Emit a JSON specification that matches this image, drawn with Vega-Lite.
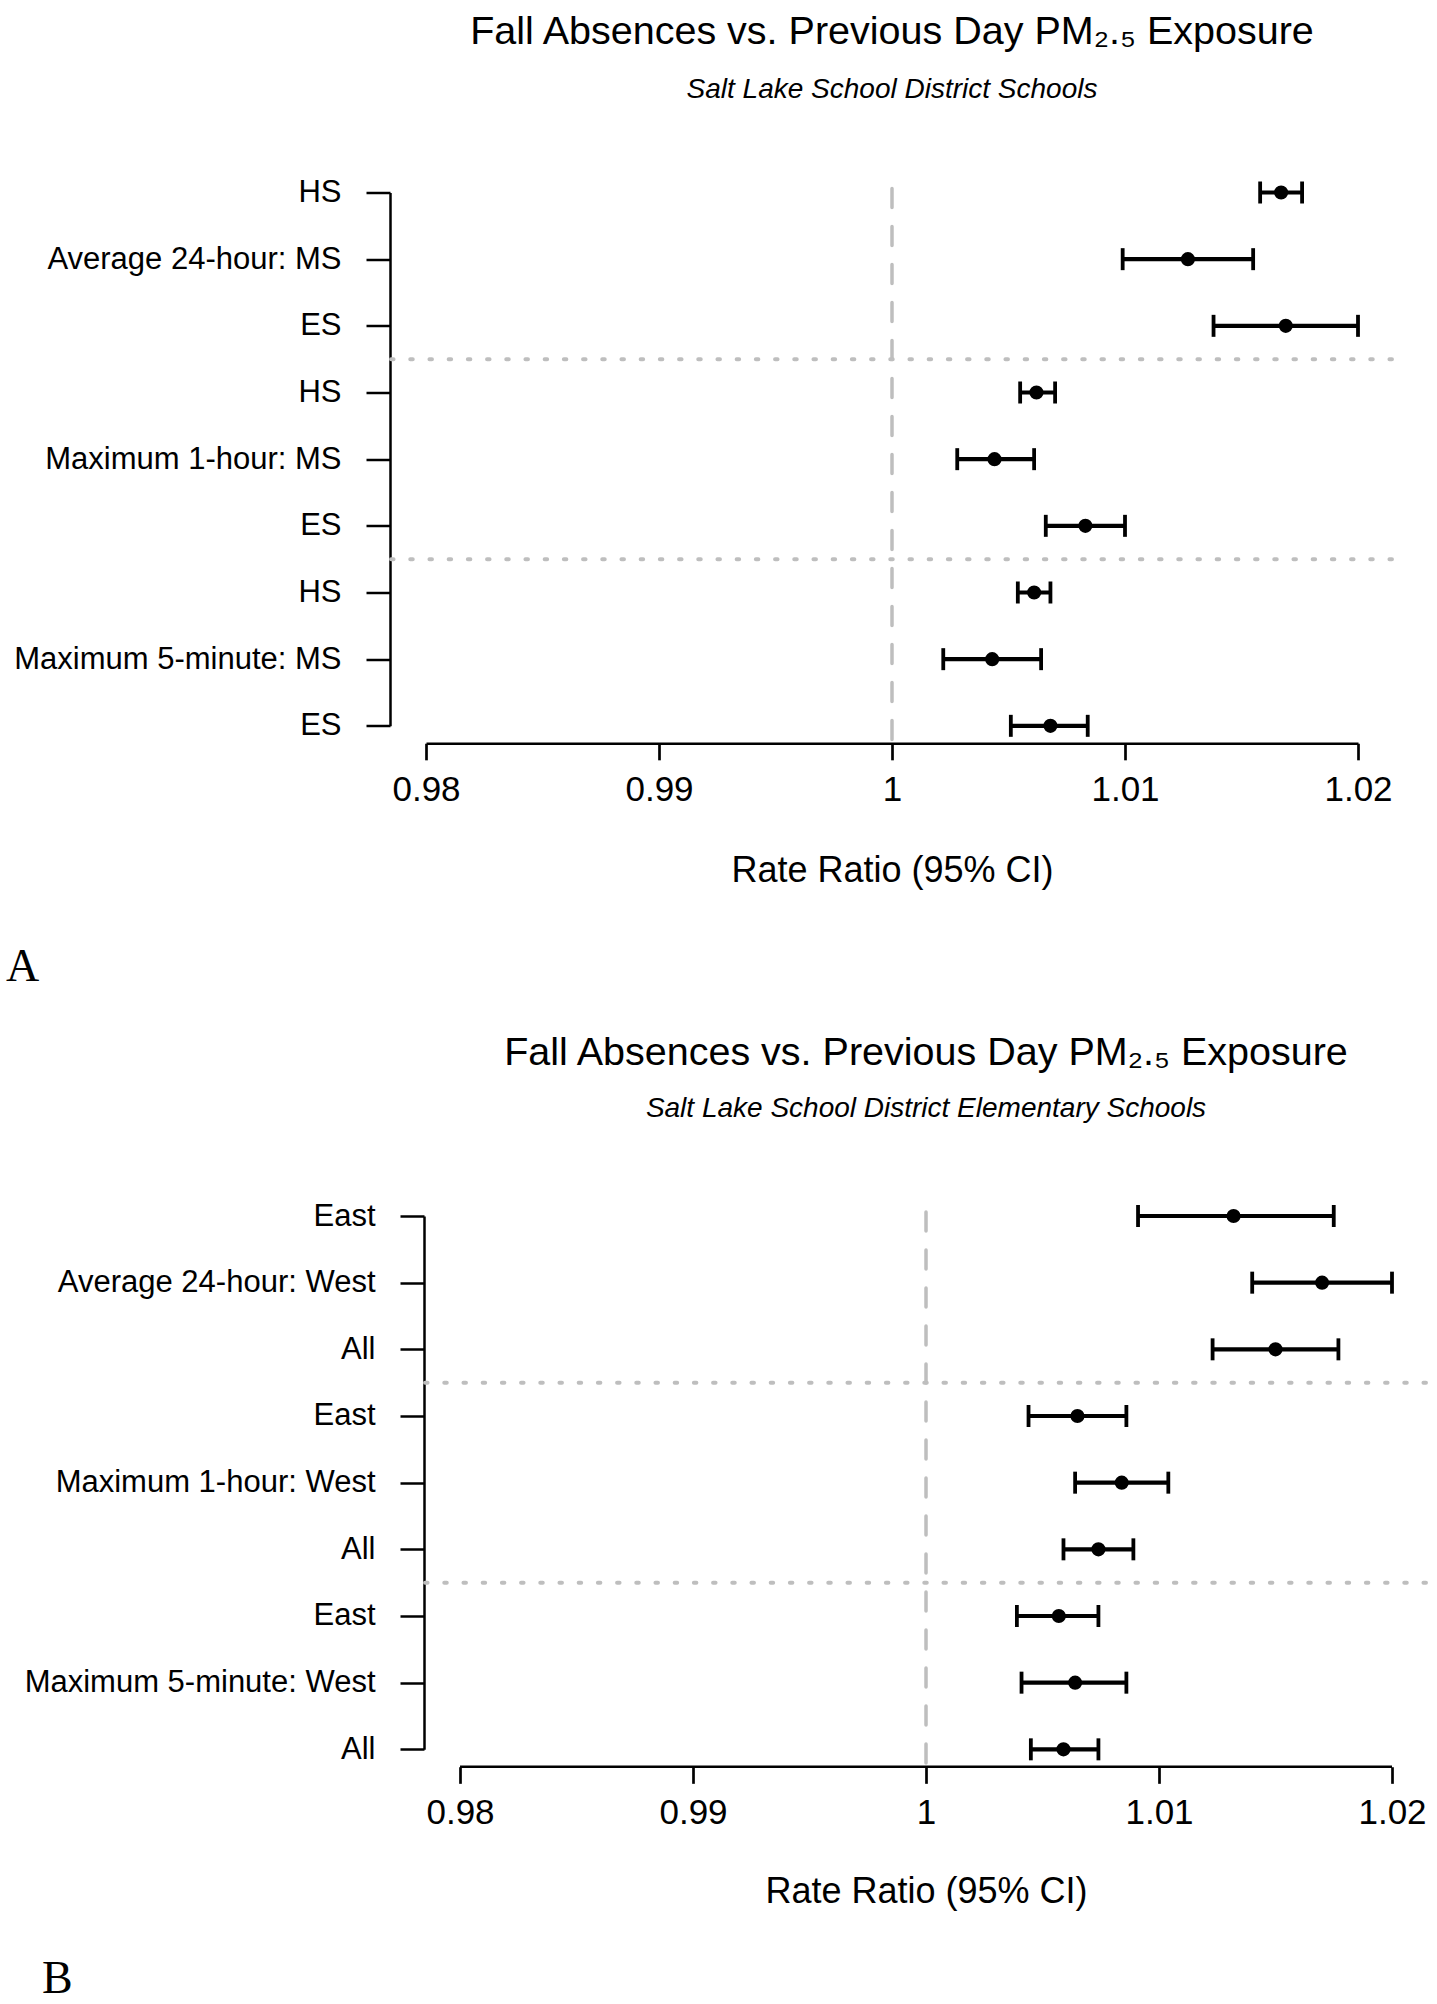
{
  "$schema": "https://vega.github.io/schema/vega-lite/v6.json",
  "background": "white",
  "padding": {"top": 11.5, "left": 0, "right": 0, "bottom": 0},
  "spacing": 42.5,
  "config": {
    "view": {"stroke": null},
    "font": "Liberation Sans",
    "axis": {"domainColor": "black", "tickColor": "black", "labelColor": "black", "titleColor": "black", "grid": false, "labelFont": "Liberation Sans", "titleFont": "Liberation Sans", "titleFontWeight": "normal", "labelLimit": 600},
    "title": {"color": "black", "fontWeight": "normal", "font": "Liberation Sans", "subtitleColor": "black", "subtitleFont": "Liberation Sans"}
  },
  "datasets": {
    "panelA": [
      {"row": 1, "label": "HS", "est": 1.0167, "lo": 1.0158, "hi": 1.0176},
      {"row": 2, "label": "Average 24-hour: MS", "est": 1.0127, "lo": 1.0099, "hi": 1.0155},
      {"row": 3, "label": "ES", "est": 1.0169, "lo": 1.0138, "hi": 1.02},
      {"row": 4, "label": "HS", "est": 1.0062, "lo": 1.0055, "hi": 1.007},
      {"row": 5, "label": "Maximum 1-hour: MS", "est": 1.0044, "lo": 1.0028, "hi": 1.0061},
      {"row": 6, "label": "ES", "est": 1.0083, "lo": 1.0066, "hi": 1.01},
      {"row": 7, "label": "HS", "est": 1.0061, "lo": 1.0054, "hi": 1.0068},
      {"row": 8, "label": "Maximum 5-minute: MS", "est": 1.0043, "lo": 1.0022, "hi": 1.0064},
      {"row": 9, "label": "ES", "est": 1.0068, "lo": 1.0051, "hi": 1.0084}
    ],
    "panelB": [
      {"row": 1, "label": "East", "est": 1.0132, "lo": 1.0091, "hi": 1.0175},
      {"row": 2, "label": "Average 24-hour: West", "est": 1.017, "lo": 1.014, "hi": 1.02},
      {"row": 3, "label": "All", "est": 1.015, "lo": 1.0123, "hi": 1.0177},
      {"row": 4, "label": "East", "est": 1.0065, "lo": 1.0044, "hi": 1.0086},
      {"row": 5, "label": "Maximum 1-hour: West", "est": 1.0084, "lo": 1.0064, "hi": 1.0104},
      {"row": 6, "label": "All", "est": 1.0074, "lo": 1.0059, "hi": 1.0089},
      {"row": 7, "label": "East", "est": 1.0057, "lo": 1.0039, "hi": 1.0074},
      {"row": 8, "label": "Maximum 5-minute: West", "est": 1.0064, "lo": 1.0041, "hi": 1.0086},
      {"row": 9, "label": "All", "est": 1.0059, "lo": 1.0045, "hi": 1.0074}
    ],
    "nullLine": [{"x": 1, "y_start": 0.94, "y_end": 9.26}],
    "separators": [
      {"row": 3.5, "x_start": 0.9785, "x_end": 1.0215},
      {"row": 6.5, "x_start": 0.9785, "x_end": 1.0215}
    ],
    "axisLine": [{"row": 9.261, "x_start": 0.98, "x_end": 1.02}]
  },
  "vconcat": [
    {
      "title": {"text": "A", "orient": "bottom", "anchor": "start", "frame": "bounds", "font": "Liberation Serif", "fontSize": 46, "fontWeight": "normal", "offset": 57, "dx": 6},
      "vconcat": [
        {
          "width": 932,
          "height": 533.33,
          "title": {"text": "Fall Absences vs. Previous Day PM₂.₅ Exposure", "subtitle": "Salt Lake School District Schools", "anchor": "middle", "frame": "group", "fontSize": 39.5, "subtitleFontSize": 28, "subtitleFontStyle": "italic", "subtitlePadding": 23, "offset": 72},
          "layer": [
            {
              "data": {"name": "nullLine"},
              "mark": {"type": "rule", "color": "#bebebe", "strokeWidth": 3.5, "strokeDash": [19, 19], "strokeCap": "round"},
              "encoding": {
                "x": {"field": "x", "type": "quantitative", "scale": {"domain": [0.98, 1.02], "zero": false, "nice": false},
                  "axis": {"orient": "bottom", "offset": 17.4, "values": [0.98, 0.99, 1, 1.01, 1.02], "format": "~g", "tickSize": 16.6, "tickWidth": 2.7, "domainWidth": 2.7, "labelFontSize": 35, "labelPadding": 12.5, "labelFlush": false, "labelOverlap": false, "title": "Rate Ratio (95% CI)", "titleFontSize": 36, "titlePadding": 46}},
                "y": {"field": "y_start", "type": "quantitative", "scale": {"domain": [1, 9], "reverse": true, "zero": false, "nice": false},
                  "axis": {"orient": "left", "offset": 36, "values": [1, 2, 3, 4, 5, 6, 7, 8, 9], "labelExpr": "['', 'HS', 'Average 24-hour: MS', 'ES', 'HS', 'Maximum 1-hour: MS', 'ES', 'HS', 'Maximum 5-minute: MS', 'ES'][datum.value]", "tickSize": 24, "tickWidth": 2.5, "domainWidth": 2.5, "labelFontSize": 31, "labelPadding": 25, "labelOverlap": false, "labelBaseline": "middle", "title": null, "minExtent": 390, "maxExtent": 390}},
                "y2": {"field": "y_end"}
              }
            },
            {
              "data": {"name": "separators"},
              "mark": {"type": "rule", "color": "#bebebe", "strokeWidth": 4, "strokeDash": [2.5, 16.7], "strokeCap": "round"},
              "encoding": {
                "x": {"field": "x_start", "type": "quantitative", "scale": {"domain": [0.98, 1.02], "zero": false, "nice": false}},
                "x2": {"field": "x_end"},
                "y": {"field": "row", "type": "quantitative", "scale": {"domain": [1, 9], "reverse": true, "zero": false, "nice": false}}
              }
            },
            {
              "data": {"name": "panelA"},
              "mark": {"type": "rule", "color": "black", "strokeWidth": 4.2},
              "encoding": {
                "x": {"field": "lo", "type": "quantitative", "scale": {"domain": [0.98, 1.02], "zero": false, "nice": false}},
                "x2": {"field": "hi"},
                "y": {"field": "row", "type": "quantitative", "scale": {"domain": [1, 9], "reverse": true, "zero": false, "nice": false}}
              }
            },
            {
              "data": {"name": "panelA"},
              "mark": {"type": "tick", "orient": "vertical", "color": "black", "size": 22, "thickness": 3.8, "opacity": 1},
              "encoding": {
                "x": {"field": "lo", "type": "quantitative", "scale": {"domain": [0.98, 1.02], "zero": false, "nice": false}},
                "y": {"field": "row", "type": "quantitative", "scale": {"domain": [1, 9], "reverse": true, "zero": false, "nice": false}}
              }
            },
            {
              "data": {"name": "panelA"},
              "mark": {"type": "tick", "orient": "vertical", "color": "black", "size": 22, "thickness": 3.8, "opacity": 1},
              "encoding": {
                "x": {"field": "hi", "type": "quantitative", "scale": {"domain": [0.98, 1.02], "zero": false, "nice": false}},
                "y": {"field": "row", "type": "quantitative", "scale": {"domain": [1, 9], "reverse": true, "zero": false, "nice": false}}
              }
            },
            {
              "data": {"name": "panelA"},
              "mark": {"type": "point", "shape": "circle", "filled": true, "color": "black", "size": 200, "opacity": 1},
              "encoding": {
                "x": {"field": "est", "type": "quantitative", "scale": {"domain": [0.98, 1.02], "zero": false, "nice": false}},
                "y": {"field": "row", "type": "quantitative", "scale": {"domain": [1, 9], "reverse": true, "zero": false, "nice": false}}
              }
            }
          ]
        }
      ]
    },
    {
      "title": {"text": "B", "orient": "bottom", "anchor": "start", "frame": "bounds", "font": "Liberation Serif", "fontSize": 46, "fontWeight": "normal", "offset": 47, "dx": 42},
      "vconcat": [
        {
          "width": 966,
          "height": 533.33,
          "title": {"text": "Fall Absences vs. Previous Day PM₂.₅ Exposure", "subtitle": "Salt Lake School District Elementary Schools", "anchor": "middle", "frame": "group", "fontSize": 39.5, "subtitleFontSize": 28, "subtitleFontStyle": "italic", "subtitlePadding": 21, "offset": 76.5, "dx": 17},
          "layer": [
            {
              "data": {"name": "nullLine"},
              "mark": {"type": "rule", "color": "#bebebe", "strokeWidth": 3.5, "strokeDash": [19, 19], "strokeCap": "round"},
              "encoding": {
                "x": {"field": "x", "type": "quantitative", "scale": {"domain": [0.97854, 1.02], "zero": false, "nice": false},
                  "axis": {"orient": "bottom", "offset": 17.4, "values": [0.98, 0.99, 1, 1.01, 1.02], "format": "~g", "domain": false, "tickSize": 16.6, "tickWidth": 2.7, "labelFontSize": 35, "labelPadding": 12.5, "labelFlush": false, "labelOverlap": false, "title": "Rate Ratio (95% CI)", "titleFontSize": 36, "titlePadding": 44, "titleX": 500}},
                "y": {"field": "y_start", "type": "quantitative", "scale": {"domain": [1, 9], "reverse": true, "zero": false, "nice": false},
                  "axis": {"orient": "left", "offset": 2, "values": [1, 2, 3, 4, 5, 6, 7, 8, 9], "labelExpr": "['', 'East', 'Average 24-hour: West', 'All', 'East', 'Maximum 1-hour: West', 'All', 'East', 'Maximum 5-minute: West', 'All'][datum.value]", "tickSize": 24, "tickWidth": 2.5, "domainWidth": 2.5, "labelFontSize": 31, "labelPadding": 25, "labelOverlap": false, "labelBaseline": "middle", "title": null, "minExtent": 424, "maxExtent": 424}},
                "y2": {"field": "y_end"}
              }
            },
            {
              "data": {"name": "axisLine"},
              "mark": {"type": "rule", "color": "black", "strokeWidth": 2.7},
              "encoding": {
                "x": {"field": "x_start", "type": "quantitative", "scale": {"domain": [0.97854, 1.02], "zero": false, "nice": false}},
                "x2": {"field": "x_end"},
                "y": {"field": "row", "type": "quantitative", "scale": {"domain": [1, 9], "reverse": true, "zero": false, "nice": false}}
              }
            },
            {
              "data": {"name": "separators"},
              "mark": {"type": "rule", "color": "#bebebe", "strokeWidth": 4, "strokeDash": [2.5, 16.7], "strokeCap": "round"},
              "encoding": {
                "x": {"field": "x_start", "type": "quantitative", "scale": {"domain": [0.97854, 1.02], "zero": false, "nice": false}},
                "x2": {"field": "x_end"},
                "y": {"field": "row", "type": "quantitative", "scale": {"domain": [1, 9], "reverse": true, "zero": false, "nice": false}}
              }
            },
            {
              "data": {"name": "panelB"},
              "mark": {"type": "rule", "color": "black", "strokeWidth": 4.2},
              "encoding": {
                "x": {"field": "lo", "type": "quantitative", "scale": {"domain": [0.97854, 1.02], "zero": false, "nice": false}},
                "x2": {"field": "hi"},
                "y": {"field": "row", "type": "quantitative", "scale": {"domain": [1, 9], "reverse": true, "zero": false, "nice": false}}
              }
            },
            {
              "data": {"name": "panelB"},
              "mark": {"type": "tick", "orient": "vertical", "color": "black", "size": 22, "thickness": 3.8, "opacity": 1},
              "encoding": {
                "x": {"field": "lo", "type": "quantitative", "scale": {"domain": [0.97854, 1.02], "zero": false, "nice": false}},
                "y": {"field": "row", "type": "quantitative", "scale": {"domain": [1, 9], "reverse": true, "zero": false, "nice": false}}
              }
            },
            {
              "data": {"name": "panelB"},
              "mark": {"type": "tick", "orient": "vertical", "color": "black", "size": 22, "thickness": 3.8, "opacity": 1},
              "encoding": {
                "x": {"field": "hi", "type": "quantitative", "scale": {"domain": [0.97854, 1.02], "zero": false, "nice": false}},
                "y": {"field": "row", "type": "quantitative", "scale": {"domain": [1, 9], "reverse": true, "zero": false, "nice": false}}
              }
            },
            {
              "data": {"name": "panelB"},
              "mark": {"type": "point", "shape": "circle", "filled": true, "color": "black", "size": 200, "opacity": 1},
              "encoding": {
                "x": {"field": "est", "type": "quantitative", "scale": {"domain": [0.97854, 1.02], "zero": false, "nice": false}},
                "y": {"field": "row", "type": "quantitative", "scale": {"domain": [1, 9], "reverse": true, "zero": false, "nice": false}}
              }
            }
          ]
        }
      ]
    }
  ]
}
